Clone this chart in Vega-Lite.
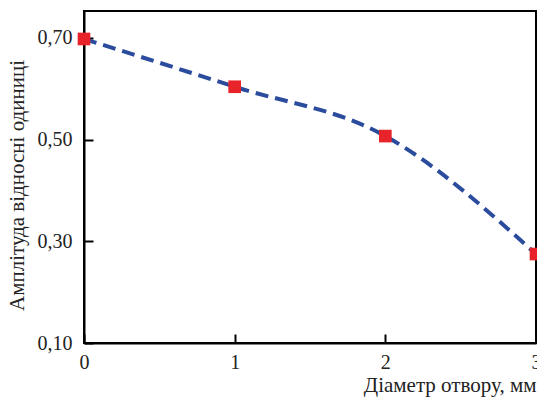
{
  "$schema": "https://vega.github.io/schema/vega-lite/v6.json",
  "autosize": "none",
  "width": 452,
  "height": 332,
  "padding": {"left": 84, "top": 11, "right": 1, "bottom": 55},
  "background": "white",
  "config": {
    "view": {"stroke": "black", "strokeWidth": 2},
    "font": "Times New Roman, Liberation Serif, DejaVu Serif, serif",
    "axis": {
      "domainColor": "black",
      "domainWidth": 2,
      "tickColor": "black",
      "tickWidth": 2,
      "grid": false,
      "labelFont": "Times New Roman, Liberation Serif, DejaVu Serif, serif",
      "titleFont": "Times New Roman, Liberation Serif, DejaVu Serif, serif",
      "labelFontSize": 20,
      "titleFontSize": 21,
      "labelColor": "#222",
      "titleColor": "#222",
      "titleFontWeight": "normal"
    }
  },
  "data": {
    "values": [
      {"d": 0, "a": 0.698},
      {"d": 1, "a": 0.604},
      {"d": 2, "a": 0.507},
      {"d": 3, "a": 0.275}
    ]
  },
  "encoding": {
    "x": {
      "field": "d",
      "type": "quantitative",
      "scale": {"domain": [0, 3], "nice": false},
      "axis": {
        "values": [0, 1, 2, 3],
        "tickSize": -9,
        "labelPadding": 18,
        "labelFlush": false,
        "labelBound": false,
        "title": "Діаметр отвору, мм",
        "titleAnchor": "end",
        "titleAlign": "right",
        "titlePadding": 2
      }
    },
    "y": {
      "field": "a",
      "type": "quantitative",
      "scale": {"domain": [0.1, 0.753], "nice": false, "zero": false},
      "axis": {
        "values": [0.1, 0.3, 0.5, 0.7],
        "format": ".2f",
        "labelExpr": "replace(datum.label, '.', ',')",
        "tickSize": -9,
        "labelPadding": 21,
        "labelFlush": false,
        "labelBound": false,
        "title": "Амплітуда  відносні одиниці",
        "titleY": 174,
        "titlePadding": 10
      }
    }
  },
  "layer": [
    {
      "mark": {"type": "line", "interpolate": "monotone", "color": "#2b4c9c", "strokeWidth": 4, "strokeDash": [13, 7]}
    },
    {
      "mark": {"type": "square", "color": "#e8242a", "opacity": 1, "size": 160, "filled": true}
    }
  ]
}
